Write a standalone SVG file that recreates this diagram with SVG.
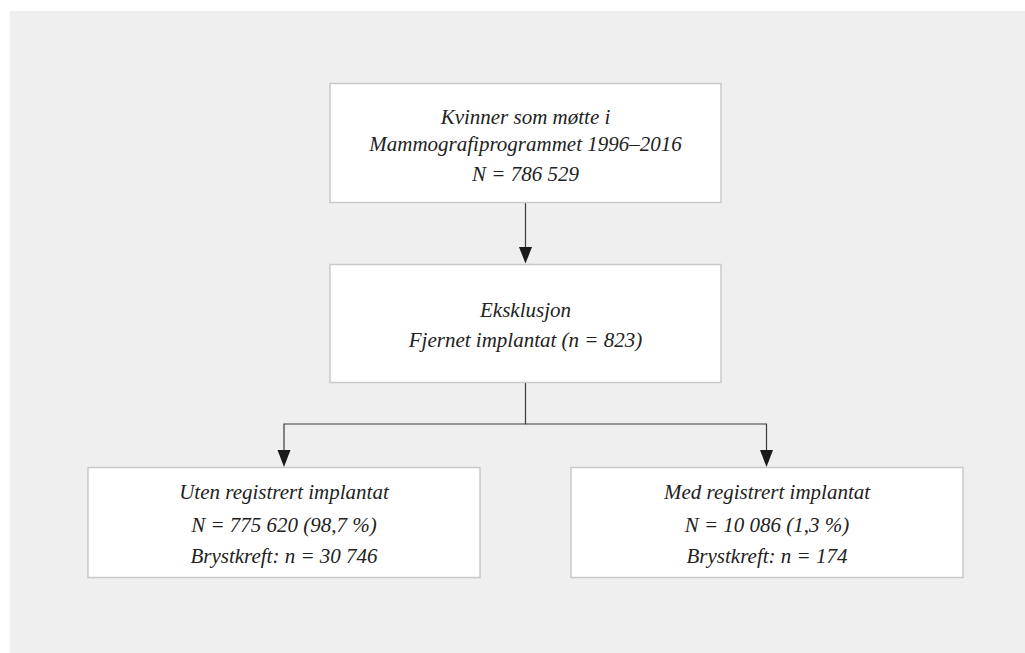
<svg xmlns="http://www.w3.org/2000/svg" width="1025" height="653" viewBox="0 0 1025 653">
<style>
.box{fill:#ffffff;stroke:#c9c9c9;stroke-width:1.5}
.t{font-family:"Liberation Serif","DejaVu Serif",serif;font-style:italic;font-size:21px;fill:#222;text-anchor:middle}
.ln{fill:none;stroke:#3a3a3a;stroke-width:1.2}
.hd{fill:#1a1a1a}
</style>
<rect x="0" y="0" width="1025" height="653" fill="#ffffff"/>
<rect x="10" y="11" width="1015" height="642" fill="#efefef"/>
<g id="connectors">
<line class="ln" x1="525.5" y1="203" x2="525.5" y2="250"/>
<polygon class="hd" points="519,247 532,247 525.5,263.5"/>
<polyline class="ln" points="525.5,383 525.5,424 284,424 284,452"/>
<polyline class="ln" points="525.5,424 766.5,424 766.5,452"/>
<polygon class="hd" points="277.5,450 290.5,450 284,467"/>
<polygon class="hd" points="760,450 773,450 766.5,467"/>
</g>
<g id="node1">
<rect class="box" x="330" y="83.5" width="391" height="119"/>
<text class="t" x="525.5" y="123.5">Kvinner som møtte i</text>
<text class="t" x="525.5" y="151">Mammografiprogrammet 1996–2016</text>
<text class="t" x="525.5" y="181">N = 786 529</text>
</g>
<g id="node2">
<rect class="box" x="330" y="264.5" width="391" height="118"/>
<text class="t" x="525.5" y="317">Eksklusjon</text>
<text class="t" x="525.5" y="347">Fjernet implantat (n = 823)</text>
</g>
<g id="node3">
<rect class="box" x="88" y="467.5" width="392" height="110"/>
<text class="t" x="284" y="499">Uten registrert implantat</text>
<text class="t" x="284" y="531.5">N = 775 620 (98,7 %)</text>
<text class="t" x="284" y="562.5">Brystkreft: n = 30 746</text>
</g>
<g id="node4">
<rect class="box" x="571" y="467.5" width="392" height="110"/>
<text class="t" x="767" y="499">Med registrert implantat</text>
<text class="t" x="767" y="531.5">N = 10 086 (1,3 %)</text>
<text class="t" x="767" y="562.5">Brystkreft: n = 174</text>
</g>
</svg>
